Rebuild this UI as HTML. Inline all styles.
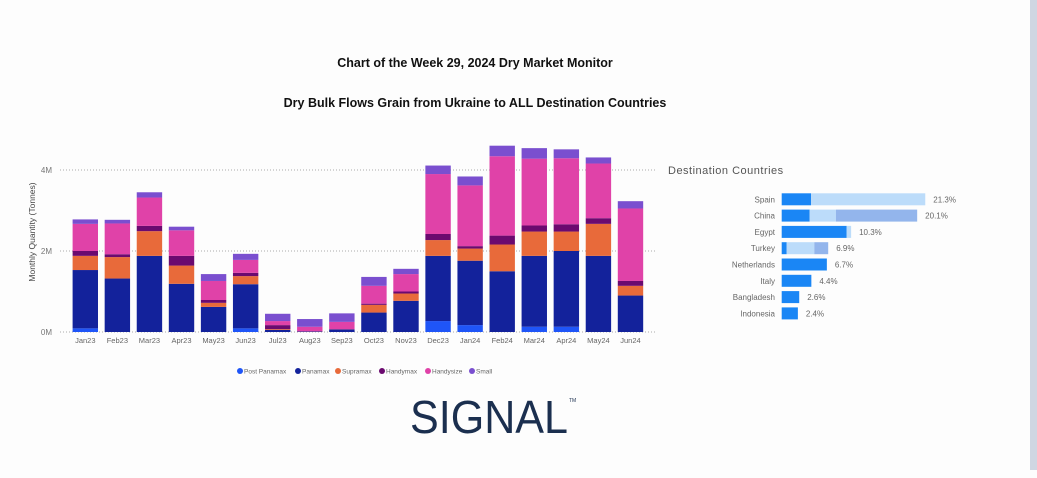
<!DOCTYPE html>
<html><head><meta charset="utf-8">
<style>
html,body{margin:0;padding:0;background:#fdfdfd;}
body{width:1037px;height:478px;position:relative;overflow:hidden;font-family:"Liberation Sans",sans-serif;}
.t{position:absolute;left:0;width:950px;text-align:center;font-weight:bold;font-size:12.5px;color:#111;}
</style></head><body>
<div class="t" style="top:56px">Chart of the Week 29, 2024 Dry Market Monitor</div>
<div class="t" style="top:96px">Dry Bulk Flows Grain from Ukraine to ALL Destination Countries</div>
<div style="position:absolute;left:1030px;top:0;width:7px;height:470px;background:#cfd6e2"></div>
<svg id="chart" width="1037" height="478" style="position:absolute;left:0;top:0">
<text transform="translate(35,232) rotate(-90)" text-anchor="middle" font-size="8.5" fill="#444" font-family="Liberation Sans">Monthly Quantity (Tonnes)</text>
<text x="668" y="174" font-size="11" fill="#555" font-family="Liberation Sans" letter-spacing="0.5">Destination Countries</text>
<g id="g"></g>
<text x="410" y="433" font-size="46" fill="#1b2f4f" font-family="Liberation Sans" textLength="158" lengthAdjust="spacingAndGlyphs">SIGNAL</text>
<text x="569" y="402" font-size="5" fill="#1b2f4f" font-family="Liberation Sans">TM</text>
</svg>
<script>
const months=["Jan23","Feb23","Mar23","Apr23","May23","Jun23","Jul23","Aug23","Sep23","Oct23","Nov23","Dec23","Jan24","Feb24","Mar24","Apr24","May24","Jun24"];
const seriesNames=["Post Panamax","Panamax","Supramax","Handymax","Handysize","Small"];
const postPanamax=[0.09,0,0,0,0,0.09,0,0,0,0,0,0.27,0.17,0,0.13,0.13,0,0];
const panamax=[1.44,1.32,1.88,1.19,0.62,1.09,0.05,0.01,0.06,0.48,0.77,1.61,1.59,1.50,1.75,1.87,1.88,0.90];
const supramax=[0.35,0.53,0.61,0.45,0.10,0.20,0.02,0,0,0.19,0.18,0.39,0.30,0.66,0.60,0.48,0.79,0.24];
const handymax=[0.12,0.07,0.13,0.24,0.07,0.08,0.10,0.01,0.01,0.03,0.05,0.15,0.06,0.22,0.15,0.18,0.14,0.12];
const handysize=[0.67,0.76,0.70,0.63,0.47,0.32,0.10,0.11,0.18,0.44,0.43,1.48,1.50,1.96,1.65,1.63,1.35,1.79];
const small=[0.11,0.09,0.13,0.09,0.17,0.15,0.18,0.19,0.21,0.22,0.13,0.21,0.22,0.26,0.26,0.22,0.15,0.18];
const yTicks=[0,2,4];
const yTickLabels=["0M","2M","4M"];
const countries=["Spain","China","Egypt","Turkey","Netherlands","Italy","Bangladesh","Indonesia"];
const shareDark=[4.35,4.15,9.64,0.74,6.7,4.4,2.6,2.4];
const shareLight=[16.95,3.9,0.66,4.1,0,0,0,0];
const shareMid=[0,12.05,0,2.06,0,0,0,0];
const shareLabels=["21.3%","20.1%","10.3%","6.9%","6.7%","4.4%","2.6%","2.4%"];

const colors=["#1f55f7","#13229b","#e86a3a","#6b0a6f","#e042a8","#7a4fcf"];
const NS="http://www.w3.org/2000/svg";
const g=document.getElementById('g');
function el(t,a,txt){const e=document.createElementNS(NS,t);for(const k in a)e.setAttribute(k,a[k]);if(txt!==undefined)e.textContent=txt;g.appendChild(e);return e;}
const y=v=>332-v*40.5;
const x=i=>85.3+i*32.07;
yTicks.forEach((t,i)=>{
  const l=el('line',{x1:60,x2:655,y1:y(t),y2:y(t),stroke:'#aaa','stroke-width':1,'stroke-dasharray':'1,2'});
  
  
  const tx=el('text',{x:52,y:y(t)+3,'text-anchor':'end','font-size':8,fill:'#777','font-family':'Liberation Sans'},yTickLabels[i]);
  
  
});
const series=[postPanamax,panamax,supramax,handymax,handysize,small];
months.forEach((m,i)=>{
  let acc=0;
  series.forEach((s,k)=>{
    const v=s[i];if(v<=0)return;
    const r=el('rect',{x:x(i)-12.7,width:25.4,y:y(acc+v),height:y(acc)-y(acc+v),fill:colors[k]});
    
    
    acc+=v;
  });
  const t=el('text',{x:x(i),y:343,'text-anchor':'middle','font-size':7.5,fill:'#666','font-family':'Liberation Sans'},m);
  
  
});
const legX=[240,298,338,382,428,472];
seriesNames.forEach((n,k)=>{
  const c=el('circle',{cx:legX[k],cy:371,r:3,fill:colors[k]});
  
  
  const t=el('text',{x:legX[k]+4,y:373.5,'font-size':6.5,fill:'#666','font-family':'Liberation Sans'},n);
  
  
});
const px=p=>p*6.74;
countries.forEach((c,i)=>{
  const cy=199.3+i*16.3;
  let x0=781.7;
  [[shareDark,'#1a86f5'],[shareLight,'#bcdcfa'],[shareMid,'#93b5ec']].forEach(([arr,col])=>{
    const w=px(arr[i]);if(w<=0)return;
    const r=el('rect',{x:x0,y:cy-6,width:w,height:12,fill:col});
    
    
    x0+=w;
  });
  const lb=el('text',{x:775,y:cy+3,'text-anchor':'end','font-size':8,fill:'#666','font-family':'Liberation Sans'},c);
  
  
  const v=el('text',{x:x0+8,y:cy+3,'font-size':8,fill:'#666','font-family':'Liberation Sans'},shareLabels[i]);
  
  
});
</script>
</body></html>
